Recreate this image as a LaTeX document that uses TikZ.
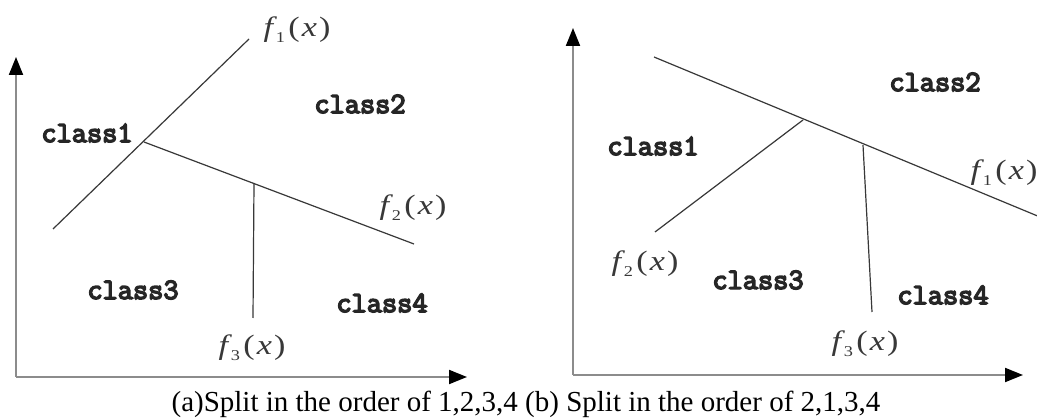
\documentclass[tikz,border=0pt]{standalone}
\usepackage{fontspec}
\setmainfont{Liberation Serif}
\newfontfamily\clsfont[FakeBold=5]{Latin Modern Mono}
\usetikzlibrary{arrows.meta}
\newcommand{\fxlab}[1]{\scalebox{1.22}[1]{\textit{f}\kern-0.03em\raisebox{-0.22em}{\fontsize{15}{15}\selectfont #1}\kern0.1em(\kern0.06em\textit{x}\kern0.06em)}}
\tikzset{
  axis/.style={draw=black!45, line width=2pt, -{Triangle[length=18pt,width=14pt,black]}},
  sep/.style={draw=black!78, line width=1.2pt},
  cls/.style={font=\clsfont\fontsize{29.5}{29.5}\selectfont, text=black!85, inner sep=0pt},
  flab/.style={font=\fontsize{28}{28}\selectfont, text=black!78, inner sep=0pt},
  captext/.style={font=\fontsize{29}{29}\selectfont, inner sep=0pt}
}
\begin{document}
\begin{tikzpicture}[x=1pt,y=-1pt]
\useasboundingbox[fill=white] (0,0) rectangle (1037,419);
% ---------- panel (a) ----------
\coordinate (aO) at (16,377);
\coordinate (aY) at (16,57);
\coordinate (aX) at (467,377);
\draw[axis] (aO) -- (aY);
\draw[axis] (aO) -- (aX);
\coordinate (a1s) at (53,229);
\coordinate (a1e) at (249,39);
\coordinate (aI) at (144,142);
\coordinate (a2e) at (414,244);
\coordinate (a3s) at (254,183);
\coordinate (a3e) at (253,318);
\draw[sep] (a1s) -- (a1e);
\draw[sep] (aI) -- (a2e);
\draw[sep] (a3s) -- (a3e);
\node[flab] (af1) at (297,30) {\fxlab{1}};
\node[flab] (af2) at (413,208) {\fxlab{2}};
\node[flab] (af3) at (252,348) {\fxlab{3}};
\node[cls] (ac1) at (87,133) {class1};
\node[cls] (ac2) at (360,104) {class2};
\node[cls] (ac3) at (133,290) {class3};
\node[cls] (ac4) at (382,303) {class4};
% ---------- panel (b) ----------
\coordinate (bO) at (573,375);
\coordinate (bY) at (573,28);
\coordinate (bX) at (1023,375);
\draw[axis] (bO) -- (bY);
\draw[axis] (bO) -- (bX);
\coordinate (b1s) at (654,57);
\coordinate (b1e) at (1040,217);
\coordinate (b2s) at (655,232);
\coordinate (b2e) at (803,120);
\coordinate (b3s) at (863,145);
\coordinate (b3e) at (872,312);
\draw[sep] (b1s) -- (b1e);
\draw[sep] (b2s) -- (b2e);
\draw[sep] (b3s) -- (b3e);
\node[flab] (bf1) at (1004,173) {\fxlab{1}};
\node[flab] (bf2) at (645,264) {\fxlab{2}};
\node[flab] (bf3) at (865,344) {\fxlab{3}};
\node[cls] (bc1) at (653,146) {class1};
\node[cls] (bc2) at (935,82) {class2};
\node[cls] (bc3) at (758,280) {class3};
\node[cls] (bc4) at (943,295) {class4};
% ---------- caption ----------
\node[captext] (caption) at (526,404) {(a)Split in the order of 1,2,3,4 (b) Split in the order of 2,1,3,4};
\end{tikzpicture}
\end{document}
